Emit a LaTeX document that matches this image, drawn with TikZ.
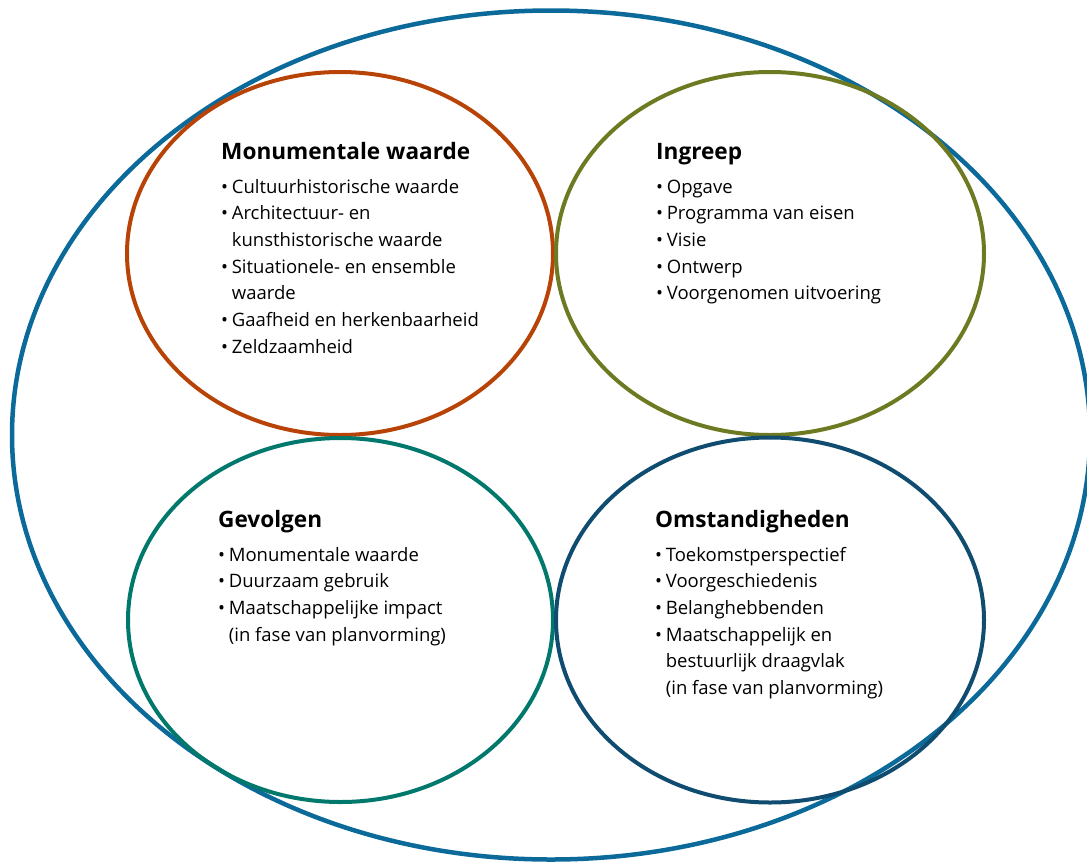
\documentclass[tikz,border=0pt]{standalone}
\usepackage{fontspec}
\setmainfont{Open Sans}
\usetikzlibrary{shapes.geometric}
\definecolor{outerblue}{HTML}{0B6A9A}
\definecolor{rustred}{HTML}{B84307}
\definecolor{olive}{HTML}{6E7A22}
\definecolor{tealgreen}{HTML}{00786B}
\definecolor{navyblue}{HTML}{0F4C70}
\newcommand{\mybul}{\textbullet\hspace{0.2em}}
\newcommand{\myind}{\hphantom{\textbullet\hspace{0.2em}}}
\tikzset{
  ring/.style={draw, ellipse, line width=4pt, inner sep=0pt, outer sep=0pt},
  heading/.style={anchor=base west, inner sep=0pt, font=\fontsize{22.6}{26}\selectfont\bfseries},
  items/.style={anchor=base west, inner sep=0pt, font=\fontsize{18.5}{26.7}\selectfont}
}
\begin{document}
\begin{tikzpicture}[x=1pt,y=-1pt]
\useasboundingbox (0,0) rectangle (1087,863);
\node[ring, draw=outerblue, line width=4.5pt, minimum width=1078pt, minimum height=849pt] (outer) at (551,435) {};
\node[ring, draw=rustred, minimum width=426pt, minimum height=363pt] (mon) at (340,253.5) {};
\node[ring, draw=olive, minimum width=428pt, minimum height=363pt] (ing) at (770,253.5) {};
\node[ring, draw=tealgreen, minimum width=425pt, minimum height=364pt] (gev) at (340.5,620) {};
\node[ring, draw=navyblue, minimum width=428pt, minimum height=365pt] (oms) at (770,620) {};

\node[heading] (monT) at (221,159) {Monumentale waarde};
\node[items] (monL) at (221,193) {\begin{tabular}[t]{@{}l@{}}
\mybul Cultuurhistorische waarde\\
\mybul Architectuur- en\\
\myind kunsthistorische waarde\\
\mybul Situationele- en ensemble\\
\myind waarde\\
\mybul Gaafheid en herkenbaarheid\\
\mybul Zeldzaamheid
\end{tabular}};

\node[heading] (ingT) at (656,159) {Ingreep};
\node[items] (ingL) at (656,193) {\begin{tabular}[t]{@{}l@{}}
\mybul Opgave\\
\mybul Programma van eisen\\
\mybul Visie\\
\mybul Ontwerp\\
\mybul Voorgenomen uitvoering
\end{tabular}};

\node[heading] (gevT) at (218,527) {Gevolgen};
\node[items] (gevL) at (218,561) {\begin{tabular}[t]{@{}l@{}}
\mybul Monumentale waarde\\
\mybul Duurzaam gebruik\\
\mybul Maatschappelijke impact\\
\myind (in fase van planvorming)
\end{tabular}};

\node[heading] (omsT) at (655,527) {Omstandigheden};
\node[items] (omsL) at (655,561) {\begin{tabular}[t]{@{}l@{}}
\mybul Toekomstperspectief\\
\mybul Voorgeschiedenis\\
\mybul Belanghebbenden\\
\mybul Maatschappelijk en\\
\myind bestuurlijk draagvlak\\
\myind (in fase van planvorming)
\end{tabular}};
\end{tikzpicture}
\end{document}
